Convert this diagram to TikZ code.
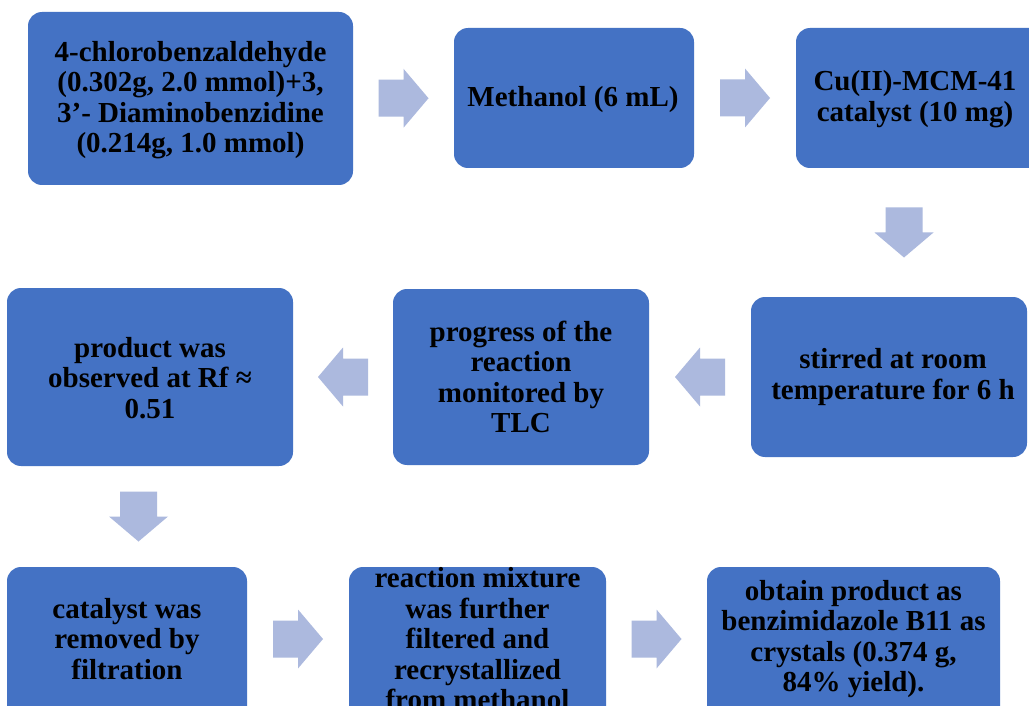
\documentclass[tikz,border=0pt]{standalone}
\usepackage{fontspec}
\setmainfont{Liberation Serif}
\usetikzlibrary{calc}
\definecolor{boxblue}{RGB}{68,114,196}
\definecolor{arrowblue}{RGB}{172,185,222}
\tikzset{
  box/.style={rectangle, rounded corners=14pt, fill=boxblue, inner sep=0pt},
  txt/.style={align=center, inner sep=0pt, text=black,
    font=\fontsize{29}{30.5}\selectfont\bfseries},
  blockarrow/.pic={\fill[arrowblue] (-25,-18.5) -- (0,-18.5) -- (0,-29.5) -- (25,0)
     -- (0,29.5) -- (0,18.5) -- (-25,18.5) -- cycle;}
}
\begin{document}
\begin{tikzpicture}[x=1pt,y=-1pt]
\useasboundingbox (0,0) rectangle (1029,706);
\clip (0,0) rectangle (1029,706);
\fill[white] (0,0) rectangle (1029,706);
% boxes
\node[box, minimum width=325pt, minimum height=173pt] (b1) at (190.5,98.5) {};
\node[box, minimum width=240pt, minimum height=140pt] (b2) at (574,98) {};
\node[box, minimum width=254pt, minimum height=140pt] (b3) at (923,98) {};
\node[box, minimum width=276pt, minimum height=160pt] (b4) at (889,377) {};
\node[box, minimum width=256pt, minimum height=176pt] (b5) at (521,377) {};
\node[box, minimum width=286pt, minimum height=178pt] (b6) at (150,377) {};
\node[box, minimum width=240pt, minimum height=160pt] (b7) at (127,647) {};
\node[box, minimum width=257pt, minimum height=160pt] (b8) at (477.5,647) {};
\node[box, minimum width=293pt, minimum height=160pt] (b9) at (853.5,647) {};
% texts
\node[txt] (t1) at (190.5,100) {4-chlorobenzaldehyde\\(0.302g, 2.0 mmol)+3,\\3’- Diaminobenzidine\\(0.214g, 1.0 mmol)};
\node[txt] (t2) at (573,100) {Methanol (6 mL)};
\node[txt] (t3) at (915,99) {Cu(II)-MCM-41\\catalyst (10 mg)};
\node[txt] (t4) at (893,377) {stirred at room\\temperature for 6 h};
\node[txt] (t5) at (521,377) {progress of the\\reaction\\monitored by\\TLC};
\node[txt] (t6) at (150,378) {product was\\observed at Rf ≈\\0.51};
\node[txt] (t7) at (127,639) {catalyst was\\removed by\\filtration};
\node[txt] (t8) at (477.5,639) {reaction mixture\\was further\\filtered and\\recrystallized\\from methanol};
\node[txt] (t9) at (853.5,639) {obtain product as\\benzimidazole B11 as\\crystals (0.374 g,\\84\% yield).};
% arrows
\coordinate (a1) at ($(b1.east)!0.5!(b2.west)$);
\coordinate (a2) at ($(b2.east)!0.5!(b3.west)$);
\coordinate (m3) at ($(t3)!0.5!(t4)$);
\coordinate (a3) at ($(m3 |- b3.south)!0.5!(m3 |- b4.north)$);
\coordinate (a4) at ($(b5.east)!0.5!(b4.west)$);
\coordinate (a5) at ($(b6.east)!0.5!(b5.west)$);
\coordinate (a6) at ($(b6.south)!0.5!(b7.north)$);
\coordinate (m7) at ($(b7.east)!0.5!(b8.west)$);
\coordinate (a7) at (m7 |- t7);
\coordinate (m8) at ($(b8.east)!0.5!(b9.west)$);
\coordinate (a8) at (m8 |- t8);
\pic at (a1) {blockarrow};
\pic at (a2) {blockarrow};
\pic[rotate=-90] at (a3) {blockarrow};
\pic[rotate=180] at (a4) {blockarrow};
\pic[rotate=180] at (a5) {blockarrow};
\pic[rotate=-90] at (a6) {blockarrow};
\pic at (a7) {blockarrow};
\pic at (a8) {blockarrow};
\end{tikzpicture}
\end{document}
